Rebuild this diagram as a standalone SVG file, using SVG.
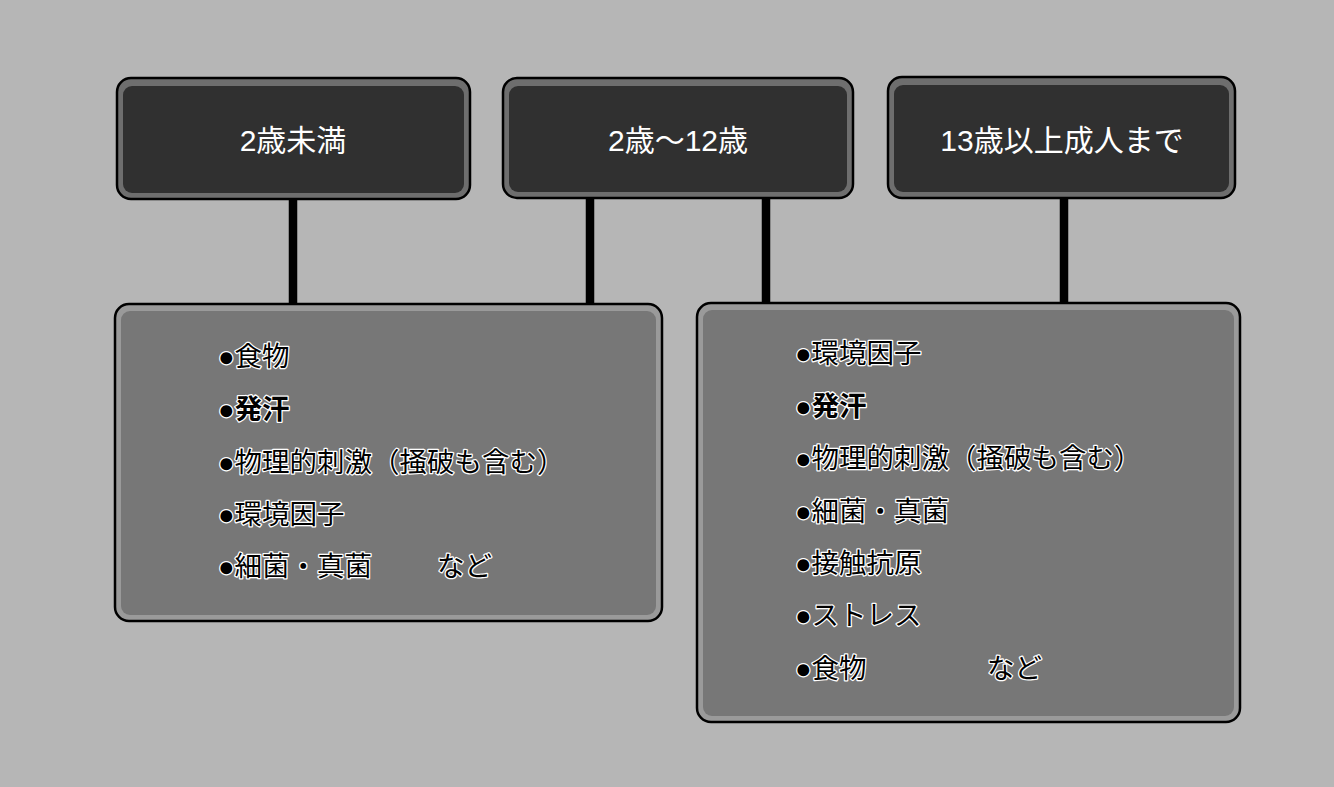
<svg xmlns="http://www.w3.org/2000/svg" width="1334" height="787" viewBox="0 0 1334 787">
<style>
.bg{fill:#b6b6b6}
.hbox{fill:#6e6e6e;stroke:#000;stroke-width:2.5}
.hin{fill:#303030}
.bbox{fill:#9a9a9a;stroke:#000;stroke-width:2.5}
.bin{fill:#777777}
.conn{stroke:#000;stroke-width:8.5;fill:none}
.ht{font-family:"Liberation Sans","Noto Sans CJK JP",sans-serif;font-size:30px;fill:#fff;text-anchor:middle}
.it{font-family:"Liberation Sans","Noto Sans CJK JP",sans-serif;font-size:27.5px;fill:#000;stroke:#fff;stroke-width:2.5;paint-order:stroke;stroke-linejoin:round}
.b{font-weight:bold}
</style>
<rect class="bg" x="0" y="0" width="1334" height="787"/>
<g id="connectors">
<line class="conn" x1="293" y1="198" x2="293" y2="306"/>
<line class="conn" x1="590" y1="198" x2="590" y2="306"/>
<line class="conn" x1="766" y1="198" x2="766" y2="306"/>
<line class="conn" x1="1064" y1="198" x2="1064" y2="306"/>
</g>
<g id="age-under2">
<rect class="hbox" x="117" y="78" width="353" height="121" rx="14"/>
<rect class="hin" x="123" y="86" width="341" height="107" rx="9"/>
<text class="ht" x="293" y="151">2歳未満</text>
</g>
<g id="age-2to12">
<rect class="hbox" x="503" y="78" width="350" height="120" rx="14"/>
<rect class="hin" x="509" y="86" width="338" height="106" rx="9"/>
<text class="ht" x="678" y="151">2歳〜12歳</text>
</g>
<g id="age-13plus">
<rect class="hbox" x="888" y="77" width="347" height="121" rx="14"/>
<rect class="hin" x="894" y="85" width="335" height="107" rx="9"/>
<text class="ht" x="1062" y="151">13歳以上成人まで</text>
</g>
<g id="factors-under2">
<rect class="bbox" x="115" y="304" width="547" height="317" rx="14"/>
<rect class="bin" x="121" y="311" width="535" height="304" rx="9"/>
<text class="it" x="218" y="366">●食物</text>
<text class="it" x="218" y="419">●<tspan class="b">発汗</tspan></text>
<text class="it" x="218" y="472">●物理的刺激（掻破も含む）</text>
<text class="it" x="218" y="524">●環境因子</text>
<text class="it" x="218" y="576">●細菌・真菌</text>
<text class="it" x="437" y="576">など</text>
</g>
<g id="factors-2plus">
<rect class="bbox" x="697" y="303" width="543" height="419" rx="14"/>
<rect class="bin" x="703" y="310" width="531" height="406" rx="9"/>
<text class="it" x="795" y="363">●環境因子</text>
<text class="it" x="795" y="416">●<tspan class="b">発汗</tspan></text>
<text class="it" x="795" y="468">●物理的刺激（掻破も含む）</text>
<text class="it" x="795" y="521">●細菌・真菌</text>
<text class="it" x="795" y="573">●接触抗原</text>
<text class="it" x="795" y="625">●ストレス</text>
<text class="it" x="795" y="678">●食物</text>
<text class="it" x="987" y="678">など</text>
</g>
</svg>
